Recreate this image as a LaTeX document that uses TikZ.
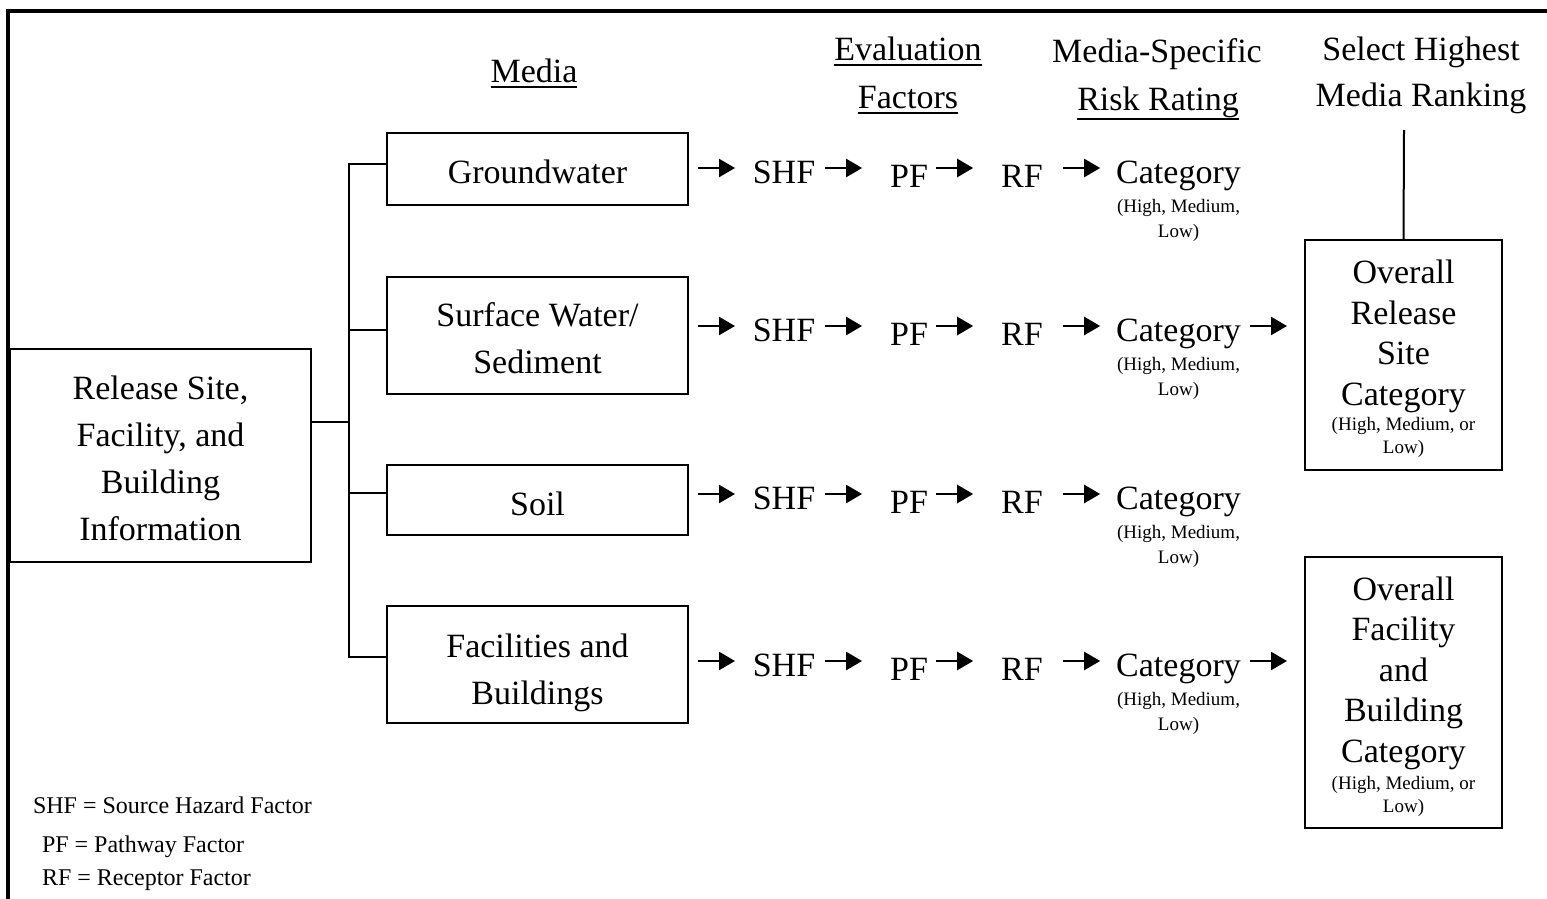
\documentclass[tikz,border=0pt]{standalone}
\usepackage{fontspec}
\setmainfont{Liberation Serif}
\usetikzlibrary{arrows.meta}
\newcommand{\hdul}[2][1.5pt]{\vtop{\hbox{#2}\kern#1\hrule height 1pt}}
\newcommand{\lift}[1]{\rule{0pt}{#1}}
\begin{document}
\begin{tikzpicture}[x=0.5pt,y=-0.5pt,
  every node/.style={inner sep=0pt, outer sep=0pt},
  big/.style={font=\fontsize{17}{23.5}\selectfont},
  smalltxt/.style={font=\fontsize{9.5}{12.5}\selectfont, align=center},
  legend/.style={font=\fontsize{12}{14}\selectfont, anchor=west, text height=7.95pt, text depth=0pt},
  box/.style={draw, line width=1.2pt, align=center, big},
  obox/.style={draw, line width=1.2pt, align=center, font=\fontsize{17}{20.25}\selectfont, minimum width=98.5pt},
  lbl/.style={big, text height=11.25pt, text depth=0pt},
  hd/.style={big, anchor=base},
  ln/.style={line width=1pt},
  arr/.style={line width=1.2pt, -{Triangle[length=8pt,width=9pt]}},
  a1/.style={arr, shorten <=5pt, shorten >=8.9pt},
  a2/.style={arr, shorten <=4.9pt, shorten >=14pt},
  a3/.style={arr, shorten <=4pt, shorten >=14pt},
  a4/.style={arr, shorten <=10pt, shorten >=8pt},
  a5/.style={arr, shorten <=4.5pt, shorten >=9pt}
]
\useasboundingbox (0,0) rectangle (1547,899);
% frame (top and left edges)
\draw[line width=2pt] (8,899) -- (8,11) -- (1547,11);

% headers
\node[hd] (hmedia) at (534,83) {\hdul{Media}};
\node[hd] (hev1) at (908,61) {\hdul{Evaluation}};
\node[hd] (hev2) at (908,109) {\hdul{Factors}};
\node[hd] (hms1) at (1157,63) {Media-Specific};
\node[hd] (hms2) at (1158,111) {\hdul[0pt]{Risk Rating}};
\node[hd] (hsel1) at (1421,61) {Select Highest};
\node[hd] (hsel2) at (1421,107) {Media Ranking};

% source box
\node[box, minimum width=150.5pt, minimum height=106.5pt] (src) at (160.5,455.5)
  {\lift{14.6pt}Release Site,\\Facility, and\\Building\\Information};

% media boxes
\node[box, minimum width=150.5pt, minimum height=36pt] (gw) at (537.5,169) {\lift{14.6pt}Groundwater};
\node[box, minimum width=150.5pt, minimum height=58.5pt] (sw) at (537.5,335.5) {\lift{15.1pt}Surface Water/\\Sediment};
\node[box, minimum width=150.5pt, minimum height=35pt] (soil) at (537.5,500) {\lift{15.6pt}Soil};
\node[box, minimum width=150.5pt, minimum height=58.5pt] (fac) at (537.5,664.5) {\lift{16.6pt}Facilities and\\\smash{Buildings}};

% bracket
\coordinate (jn) at (349,422);
\draw[ln] (jn -| src.east) -- (jn);
\draw[ln] ([yshift=2.5pt]gw.west) -| (jn);
\draw[ln] (jn) |- ([yshift=2.75pt]sw.west);
\draw[ln] (jn) |- ([yshift=3.5pt]soil.west);
\draw[ln] (jn) |- ([yshift=3.75pt]fac.west);

% overall boxes
\node[obox, minimum height=115pt] (orel) at (1403.5,355)
  {\lift{15.6pt}Overall\\Release\\Site\\Category\\[-7.75pt]{\fontsize{9.5}{11.5}\selectfont (High, Medium, or}\\[-8.75pt]{\fontsize{9.5}{11.5}\selectfont Low)}};
\node[obox, minimum height=135.5pt] (ofac) at (1403.5,692.5)
  {\lift{15.6pt}Overall\\Facility\\and\\Building\\Category\\[-6.75pt]{\fontsize{9.5}{11.5}\selectfont (High, Medium, or}\\[-8.75pt]{\fontsize{9.5}{11.5}\selectfont Low)}};
\coordinate (selb) at (1404,130);
\draw[ln] (orel.north) -- (selb);

% rows
\foreach \i/\b/\ys/\yp/\ya in {1/gw/172/176/168, 2/sw/330/334/326, 3/soil/498/502/494, 4/fac/665/669/661}{
  \coordinate (ya\i) at (0,\ya);
  \node[lbl] (s\i) at (784,\ys) {SHF};
  \node[lbl] (p\i) at (909,\yp) {PF};
  \node[lbl] (r\i) at (1022,\yp) {RF};
  \node[lbl] (c\i) at (1178.5,\ys) {Category};
  \node[smalltxt] (cs\i) at (1178.5,\ys+48) {(High, Medium,\\Low)};
  \draw[a1] (\b.east |- ya\i) -- (s\i.west |- ya\i);
  \draw[a2] (s\i.east |- ya\i) -- (p\i.west |- ya\i);
  \draw[a3] (p\i.east |- ya\i) -- (r\i.west |- ya\i);
  \draw[a4] (r\i.east |- ya\i) -- (c\i.west |- ya\i);
}
\draw[a5] (c2.east |- ya2) -- (orel.west |- ya2);
\draw[a5] (c4.east |- ya4) -- (ofac.west |- ya4);

% legend
\node[legend] (l1) at (33,806) {SHF = Source Hazard Factor};
\node[legend] (l2) at (42,845) {PF = Pathway Factor};
\node[legend] (l3) at (42,878) {RF = Receptor Factor};
\end{tikzpicture}
\end{document}
